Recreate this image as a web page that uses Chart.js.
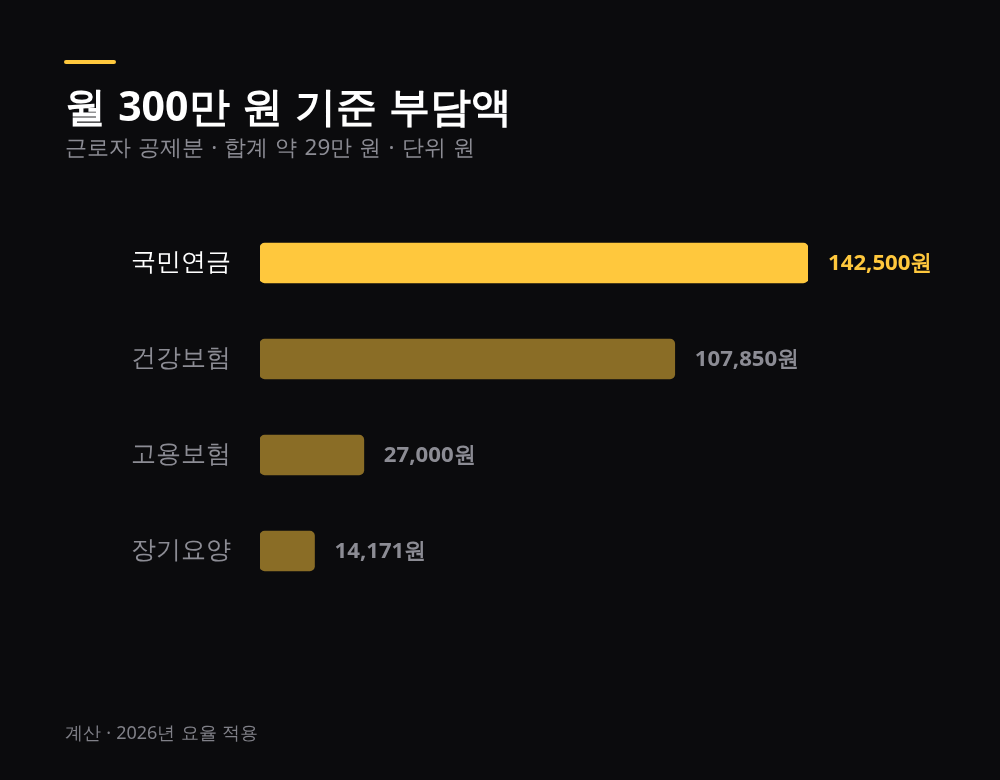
<!DOCTYPE html>
<html>
<head>
<meta charset="utf-8">
<script src="https://cdn.jsdelivr.net/npm/chart.js@4.4.1/dist/chart.umd.min.js"></script>
<style>
  html, body { margin: 0; padding: 0; background: #0b0b0d; }
  #chart { display: block; }
</style>
</head>
<body>
<canvas id="chart" width="1000" height="780"></canvas>
<script>
const categories = ['국민연금', '건강보험', '고용보험', '장기요양'];
const amounts = [142500, 107850, 27000, 14171];
const titleText = '월 300만 원 기준 부담액';
const subtitleText = '근로자 공제분 · 합계 약 29만 원 · 단위 원';
const footerText = '계산 · 2026년 요율 적용';

const BG = '#0b0b0d';
const GOLD = '#ffc83d';
const GOLD_DIM = 'rgba(255, 200, 61, 0.52)';
const GRAY = '#8c8c94';
const FONT = '"Noto Sans", sans-serif';

const fmt = v => v.toLocaleString('en-US') + '원';

// background, accent line, title block and footer
const header = {
  id: 'header',
  beforeDraw(chart) {
    const ctx = chart.ctx;
    ctx.save();
    ctx.fillStyle = BG;
    ctx.fillRect(0, 0, chart.width, chart.height);

    ctx.fillStyle = GOLD;
    ctx.beginPath();
    ctx.roundRect(64, 60, 52, 4, 2);
    ctx.fill();

    ctx.textAlign = 'left';
    ctx.textBaseline = 'alphabetic';
    ctx.fillStyle = '#ffffff';
    ctx.font = '700 41px ' + FONT;
    ctx.wordSpacing = '1.5px';
    ctx.fillText(titleText, 65, 121);

    ctx.fillStyle = GRAY;
    ctx.font = '22.4px ' + FONT;
    ctx.wordSpacing = '1.3px';
    ctx.fillText(subtitleText, 65, 155);

    ctx.fillStyle = '#808088';
    ctx.font = '18px ' + FONT;
    ctx.wordSpacing = '0.5px';
    ctx.fillText(footerText, 65, 739);
    ctx.restore();
  }
};

// value labels to the right of each bar
const valueLabels = {
  id: 'valueLabels',
  afterDatasetsDraw(chart) {
    const ctx = chart.ctx;
    const meta = chart.getDatasetMeta(0);
    ctx.save();
    ctx.font = '700 22.2px ' + FONT;
    ctx.textAlign = 'left';
    ctx.textBaseline = 'middle';
    meta.data.forEach((bar, i) => {
      ctx.fillStyle = i === 0 ? GOLD : GRAY;
      ctx.fillText(fmt(amounts[i]), bar.x + 20, bar.y + 1);
    });
    ctx.restore();
  }
};

new Chart(document.getElementById('chart'), {
  type: 'bar',
  data: {
    labels: categories,
    datasets: [{
      data: amounts,
      backgroundColor: amounts.map((v, i) => i === 0 ? GOLD : GOLD_DIM),
      borderRadius: 5,
      borderSkipped: false,
      barThickness: 40
    }]
  },
  options: {
    indexAxis: 'y',
    responsive: false,
    animation: false,
    devicePixelRatio: 1,
    layout: { padding: { left: 0, right: 192, top: 215, bottom: 181 } },
    plugins: { legend: { display: false }, tooltip: { enabled: false } },
    scales: {
      x: { display: false, min: 0, max: 142500 },
      y: {
        grid: { display: false, drawTicks: false },
        border: { display: false },
        afterFit(scale) { scale.width = 260; },
        ticks: {
          padding: 29,
          color: ctx => ctx.index === 0 ? '#ffffff' : GRAY,
          font: { family: FONT, size: 24.5 }
        }
      }
    }
  },
  plugins: [header, valueLabels]
});
</script>
</body>
</html>
